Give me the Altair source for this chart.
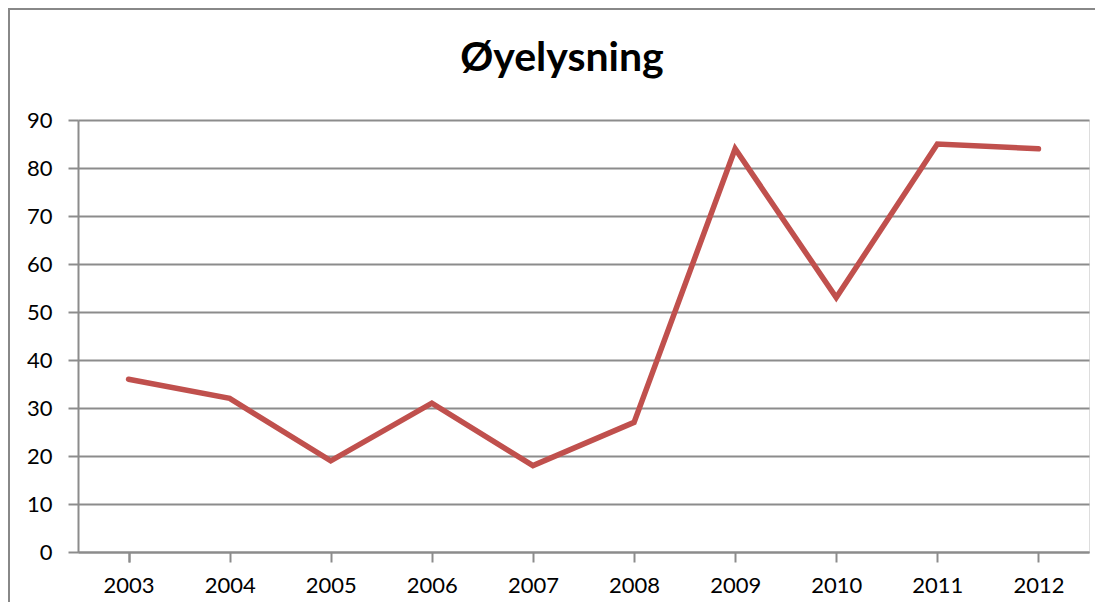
import altair as alt
import pandas as pd

years = ["2003", "2004", "2005", "2006", "2007", "2008", "2009", "2010", "2011", "2012"]
values = [36, 32, 19, 31, 18, 27, 84, 53, 85, 84]
y_ticks = [0, 10, 20, 30, 40, 50, 60, 70, 80, 90]
title_text = ["Øyelysning"]

df = pd.DataFrame({"year": years, "value": values})
df_title = pd.DataFrame({"t": title_text})

W, H = 1011, 432
GRID = "#8c8c8c"
FONT = "Lato"

x_enc = alt.X(
    "year:N",
    sort=years,
    scale=alt.Scale(paddingInner=0, paddingOuter=0),
    axis=alt.Axis(
        title=None,
        labelAngle=0,
        labelFont=FONT,
        labelFontSize=22,
        labelColor="#000000",
        labelPadding=13,
        bandPosition=1,
        tickExtra=True,
        tickSize=10,
        tickColor=GRID,
        tickWidth=2,
        domainColor=GRID,
        domainWidth=2,
        grid=False,
    ),
)
y_enc = alt.Y(
    "value:Q",
    scale=alt.Scale(domain=[0, 90], nice=False),
    axis=alt.Axis(
        title=None,
        values=y_ticks,
        labelFont=FONT,
        labelFontSize=22,
        labelColor="#000000",
        labelPadding=16,
        tickSize=10,
        tickColor=GRID,
        tickWidth=2,
        domainColor=GRID,
        domainWidth=2,
        grid=True,
        gridColor=GRID,
        gridWidth=2,
    ),
)

line = alt.Chart(df).mark_line(
    color="#C0504D", strokeWidth=5.5, strokeCap="round", strokeJoin="miter"
).encode(x=x_enc, y=y_enc)

border_left = alt.Chart(df).mark_rule(color="#888888", strokeWidth=2).encode(
    x=alt.value(-69), y=alt.value(-111), y2=alt.value(H + 60)
)
border_top = alt.Chart(df).mark_rule(color="#888888", strokeWidth=2).encode(
    x=alt.value(-70), x2=alt.value(W + 20), y=alt.value(-111)
)

title = alt.Chart(df_title).mark_text(
    font=FONT, fontSize=41, fontWeight="bold", color="#000000",
    align="center", baseline="alphabetic",
).encode(text="t:N", x=alt.value(484), y=alt.value(-49))

chart = alt.layer(border_left, border_top, line, title).properties(
    width=W,
    height=H,
    autosize=alt.AutoSizeParams(type="none"),
    padding={"left": 70, "top": 112, "right": 6, "bottom": 50},
).configure_view(stroke=None).configure(background="white")

chart.save("out.html", embed_options={"renderer": "svg", "actions": False})
